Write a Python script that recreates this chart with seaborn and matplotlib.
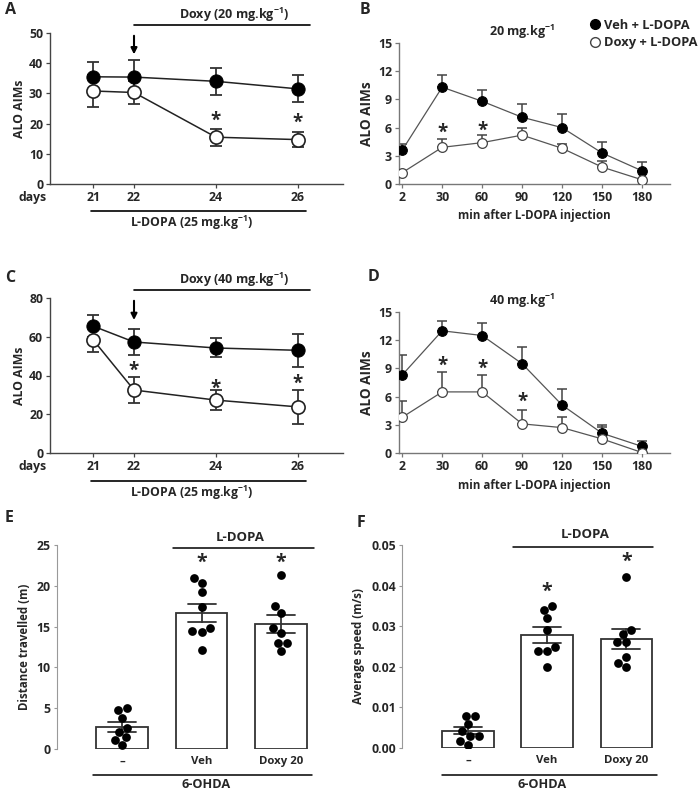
import numpy as np
import pandas as pd
import matplotlib
matplotlib.use('Agg')
import matplotlib.pyplot as plt
from matplotlib.lines import Line2D
import seaborn as sns

# Panels A and C: AIMs per day
days = [21, 22, 24, 26]
a_veh = [35.5, 35.4, 34.0, 31.5]
a_veh_sem = [5.0, 5.5, 4.4, 4.5]
a_doxy = [30.8, 30.3, 15.5, 14.7]
a_doxy_sem = [5.3, 3.8, 2.8, 2.4]
a_star_days = [24, 26]

c_veh = [65.5, 57.3, 54.2, 53.0]
c_veh_sem = [5.5, 6.7, 4.9, 8.6]
c_doxy = [58.5, 32.5, 27.3, 23.8]
c_doxy_sem = [6.5, 6.5, 5.2, 8.7]
c_star_days = [22, 24, 26]

# Panels B and D: time course after injection
minutes = [2, 30, 60, 90, 120, 150, 180]
b_veh = [3.6, 10.3, 8.8, 7.1, 6.0, 3.3, 1.4]
b_veh_sem = [0.7, 1.3, 1.2, 1.4, 1.4, 1.2, 0.9]
b_doxy = [1.2, 3.9, 4.4, 5.2, 3.8, 1.8, 0.45]
b_doxy_sem = [0.0, 0.9, 0.8, 0.8, 0.5, 0.6, 0.0]
b_star_min = [30, 60]

d_veh = [8.3, 13.0, 12.5, 9.5, 5.1, 2.1, 0.7]
d_veh_sem = [2.1, 1.0, 1.3, 1.8, 1.7, 0.9, 0.6]
d_doxy = [3.8, 6.5, 6.5, 3.1, 2.7, 1.5, 0.05]
d_doxy_sem = [1.7, 2.1, 1.8, 1.5, 1.1, 1.3, 0.0]
d_star_min = [30, 60, 90]

# Panels E and F: open field, individual animals
groups = ['–', 'Veh', 'Doxy 20']
e_sham = [5.07, 4.78, 3.84, 2.53, 2.12, 1.47, 1.10, 0.49]
e_veh = [20.3, 20.9, 19.2, 17.4, 14.8, 14.3, 14.4, 12.1]
e_doxy = [21.3, 16.7, 17.5, 14.8, 14.2, 13.0, 13.0, 12.0]
f_sham = [0.0080, 0.0080, 0.0059, 0.0041, 0.0029, 0.0029, 0.0018, 0.0008]
f_veh = [0.035, 0.034, 0.032, 0.029, 0.025, 0.024, 0.024, 0.020]
f_doxy = [0.042, 0.029, 0.028, 0.026, 0.026, 0.0225, 0.021, 0.020]

FONT = 'Open Sans'
sns.set_style('ticks')
plt.rcParams['font.family'] = [FONT, 'DejaVu Sans']
plt.rcParams['font.weight'] = 'bold'
plt.rcParams['axes.labelweight'] = 'bold'
plt.rcParams['mathtext.fontset'] = 'custom'
plt.rcParams['mathtext.rm'] = FONT + ':bold'
plt.rcParams['mathtext.it'] = FONT + ':bold'
plt.rcParams['mathtext.bf'] = FONT + ':bold'
plt.rcParams['mathtext.default'] = 'rm'

fig = plt.figure(figsize=(6.98, 7.92), dpi=100)
W, H = 698, 792


def px_axes(left, top, right, bottom):
    return fig.add_axes([left / W, 1 - bottom / H, (right - left) / W, (bottom - top) / H])


def style_axes(ax, spine_col='#444', size=8.8):
    sns.despine(ax=ax)
    for s in ['left', 'bottom']:
        ax.spines[s].set_color(spine_col)
        ax.spines[s].set_linewidth(1.0)
    ax.tick_params(direction='out', length=3, width=0.9, color=spine_col,
                   labelsize=size, pad=2)
    for lab in ax.get_xticklabels() + ax.get_yticklabels():
        lab.set_fontweight('bold')


def star(ax, x, y, size=13.5):
    ax.text(x, y, '*', ha='center', va='center', fontsize=size, fontweight='bold')


def day_panel(ax, veh, veh_sem, doxy, doxy_sem, stars, star_y, ymax, dose):
    ax.errorbar(days, veh, yerr=veh_sem, fmt='none', ecolor='#333', elinewidth=1.3,
                capsize=4, capthick=1.3, zorder=2)
    ax.errorbar(days, doxy, yerr=doxy_sem, fmt='none', ecolor='#333', elinewidth=1.3,
                capsize=4, capthick=1.3, zorder=2)
    sns.lineplot(x=days, y=veh, ax=ax, color='#222', lw=1.1, marker='o', markersize=9.5,
                 markerfacecolor='black', markeredgecolor='black', zorder=4)
    sns.lineplot(x=days, y=doxy, ax=ax, color='#222', lw=1.1, marker='o', markersize=9.5,
                 markerfacecolor='white', markeredgecolor='#222', markeredgewidth=1.2, zorder=5)
    for d, y in zip(stars, star_y):
        star(ax, d, y)
    ax.set_xlim(19.95, 27.1)
    ax.set_ylim(0, ymax)
    ax.set_xticks(days)
    ax.set_ylabel('ALO AIMs', fontsize=8.8, labelpad=2)
    style_axes(ax)
    tr = ax.get_xaxis_transform()
    # doxy treatment bar, arrow and label
    ax.plot([22, 26.3], [1.05, 1.05], transform=tr, clip_on=False, color='black', lw=1.2)
    ax.text(24.45, 1.06, 'Doxy (' + dose + ' mg.kg$^{-1}$)', transform=tr, ha='center',
            va='bottom', fontsize=9, fontweight='bold')
    ax.annotate('', xy=(22, 0.84), xytext=(22, 1.0), xycoords=tr, textcoords=tr,
                arrowprops=dict(arrowstyle='-|>', color='black', lw=1.5, mutation_scale=9),
                annotation_clip=False)
    ax.text(-0.06, -0.09, 'days', transform=ax.transAxes, ha='center', va='center',
            fontsize=8.8, fontweight='bold')
    ax.plot([20.95, 26.2], [-0.18, -0.18], transform=tr, clip_on=False, color='black', lw=1.2)
    ax.text(23.4, -0.26, 'L-DOPA (25 mg.kg$^{-1}$)', transform=tr, ha='center', va='center',
            fontsize=8.8, fontweight='bold')


def time_panel(ax, veh, veh_sem, doxy, doxy_sem, stars, star_y, title):
    pos = np.arange(len(minutes))
    ax.errorbar(pos, veh, yerr=[np.zeros(len(veh)), veh_sem], fmt='none', ecolor='#444',
                elinewidth=1.1, capsize=3.5, capthick=1.1, zorder=2)
    ax.errorbar(pos, doxy, yerr=[np.zeros(len(doxy)), doxy_sem], fmt='none', ecolor='#444',
                elinewidth=1.1, capsize=3.5, capthick=1.1, zorder=2)
    sns.lineplot(x=pos, y=veh, ax=ax, color='#555', lw=0.9, marker='o', markersize=7,
                 markerfacecolor='black', markeredgecolor='black', zorder=4)
    sns.lineplot(x=pos, y=doxy, ax=ax, color='#555', lw=0.9, marker='o', markersize=7,
                 markerfacecolor='white', markeredgecolor='#444', markeredgewidth=0.9, zorder=5)
    for m, y in zip(stars, star_y):
        star(ax, minutes.index(m), y)
    ax.set_xlim(-0.08, 6.7)
    ax.set_ylim(0, 15)
    ax.set_yticks([0, 3, 6, 9, 12, 15])
    ax.set_xticks(pos)
    ax.set_xticklabels([str(m) for m in minutes])
    ax.set_ylabel('ALO AIMs', fontsize=9.8, labelpad=3)
    ax.set_xlabel('min after L-DOPA injection', fontsize=8.3, labelpad=4)
    style_axes(ax, '#777', 8.9)
    ax.text(0.455, 1.08, title + ' mg.kg$^{-1}$', transform=ax.transAxes, ha='center',
            va='center', fontsize=9, fontweight='bold')


def bar_panel(ax, sham, veh, doxy, ylabel, ymax, yticks, fmt, stars_y, ldopa, ohda):
    df = pd.DataFrame({'group': [groups[0]] * len(sham) + [groups[1]] * len(veh)
                       + [groups[2]] * len(doxy),
                       'value': sham + veh + doxy})
    sns.barplot(data=df, x='group', y='value', order=groups, errorbar='se', capsize=0.35,
                color='white', edgecolor='#333', linewidth=1.3, width=0.65,
                err_kws={'color': '#333', 'linewidth': 1.3}, ax=ax)
    sns.swarmplot(data=df, x='group', y='value', order=groups, color='black', size=6.3, ax=ax)
    for i, y in zip([1, 2], stars_y):
        star(ax, i, y, 14)
    ax.set_ylim(0, ymax)
    ax.set_yticks(yticks)
    ax.set_yticklabels([fmt.format(t) for t in yticks])
    ax.set_xlabel('')
    ax.set_ylabel(ylabel, fontsize=8.3, labelpad=4)
    sns.despine(ax=ax, bottom=True)
    ax.spines['left'].set_color('#999')
    ax.tick_params(axis='y', direction='out', length=2.5, color='#999', labelsize=8.8, pad=2)
    ax.tick_params(axis='x', length=0, labelsize=8.2, pad=5)
    for lab in ax.get_xticklabels() + ax.get_yticklabels():
        lab.set_fontweight('bold')
    ax.set_xlim(-0.82, 2.49)
    (l0, l1, ly, ty, tx), (o0, o1, oy, oty, otx) = ldopa, ohda
    ax.plot([l0, l1], [ly, ly], clip_on=False, color='black', lw=1.1)
    ax.text(tx, ty, 'L-DOPA', ha='center', va='center', fontsize=9.5, fontweight='bold')
    ax.plot([o0, o1], [oy, oy], clip_on=False, color='black', lw=1.1)
    ax.text(otx, oty, '6-OHDA', ha='center', va='center', fontsize=9.2, fontweight='bold')


ax_a = px_axes(50, 33, 343, 184)
day_panel(ax_a, a_veh, a_veh_sem, a_doxy, a_doxy_sem, a_star_days, [21.0, 20.4], 50, '20')
ax_a.set_yticks([0, 10, 20, 30, 40, 50])

ax_c = px_axes(50, 298, 343, 453)
day_panel(ax_c, c_veh, c_veh_sem, c_doxy, c_doxy_sem, c_star_days, [42.5, 33.2, 35.8], 80, '40')
ax_c.set_yticks([0, 20, 40, 60, 80])

ax_b = px_axes(399, 43, 670, 184)
time_panel(ax_b, b_veh, b_veh_sem, b_doxy, b_doxy_sem, b_star_min, [5.4, 5.7], '20')
leg_handles = [Line2D([], [], ls='none', marker='o', markersize=7, markerfacecolor='black',
                      markeredgecolor='black'),
               Line2D([], [], ls='none', marker='o', markersize=7, markerfacecolor='white',
                      markeredgecolor='#444')]
ax_b.legend(leg_handles, ['Veh + L-DOPA', 'Doxy + L-DOPA'], loc='upper left',
            bbox_to_anchor=(0.685, 1.21), frameon=False, handlelength=0.8, handletextpad=0.3,
            labelspacing=0.35, borderaxespad=0, prop={'size': 9.3, 'weight': 'bold'})

ax_d = px_axes(399, 312, 670, 453)
time_panel(ax_d, d_veh, d_veh_sem, d_doxy, d_doxy_sem, d_star_min, [9.3, 9.0, 5.4], '40')

ax_e = px_axes(57, 545, 320, 749)
bar_panel(ax_e, e_sham, e_veh, e_doxy, 'Distance travelled (m)', 25, [0, 5, 10, 15, 20, 25],
          '{:g}', [22.8, 22.8],
          (0.64, 2.415, 24.63, 25.9, 1.48), (-0.365, 2.39, -3.2, -4.35, 1.06))

ax_f = px_axes(402, 545, 665, 748)
bar_panel(ax_f, f_sham, f_veh, f_doxy, 'Average speed (m/s)', 0.05,
          [0.0, 0.01, 0.02, 0.03, 0.04, 0.05], '{:.2f}', [0.0385, 0.0459],
          (0.57, 2.34, 0.0495, 0.0525, 1.48), (-0.33, 2.39, -0.0066, -0.0089, 0.93))
ax_f.set_xlim(-0.835, 2.49)

for letter, x, y in [('A', 5, 10), ('B', 360, 10), ('C', 5, 278), ('D', 368, 277),
                     ('E', 5, 518), ('F', 357, 523)]:
    fig.text(x / W, 1 - y / H, letter, ha='left', va='center', fontsize=11.5, fontweight='bold')

fig.savefig('out.png', dpi=100)
